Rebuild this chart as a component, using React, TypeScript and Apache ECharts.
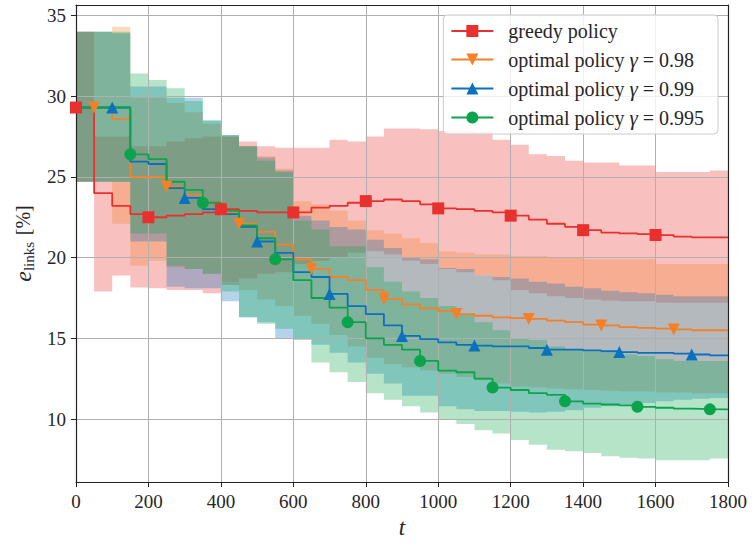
import { useEffect, useRef } from 'react';
import * as echarts from 'echarts';

// Time steps (post-step sampling, value holds until the next step)
const steps = [
  0, 50, 100, 150, 200, 250, 300, 350, 400, 450, 500, 550, 600, 650, 700, 750, 800, 850, 900,
  950, 1000, 1050, 1100, 1150, 1200, 1250, 1300, 1350, 1400, 1450, 1500, 1550, 1600, 1650, 1700,
  1750, 1800,
];

// greedy policy
const greedyMean = [
  29.3, 24.0, 23.2, 22.7, 22.5, 22.6, 22.7, 22.8, 23.0, 22.9, 22.8, 22.8, 22.8, 23.1, 23.2, 23.4,
  23.5, 23.6, 23.5, 23.3, 23.05, 23.0, 22.9, 22.8, 22.6, 22.35, 22.1, 21.9, 21.7, 21.55, 21.5,
  21.45, 21.4, 21.3, 21.25, 21.25, 21.25,
];
const greedyHigh = [
  34.0, 27.5, 27.5, 26.9, 26.9, 27.2, 27.4, 27.5, 27.5, 27.2, 26.9, 26.8, 26.8, 26.8, 27.3, 27.2,
  27.5, 28.0, 28.0, 27.95, 27.85, 27.85, 27.8, 27.3, 27.0, 26.4, 26.3, 26.0, 25.9, 25.9, 25.7,
  25.7, 25.3, 25.3, 25.3, 25.4, 25.4,
];
const greedyLow = [
  24.7, 17.9, 18.9, 18.15, 18.1, 18.0, 18.0, 17.8, 18.3, 18.7, 19.0, 19.1, 19.6, 19.8, 20.0, 20.3,
  20.4, 20.2, 19.8, 19.6, 19.3, 19.1, 18.9, 18.6, 18.0, 17.8, 17.6, 17.5, 17.4, 17.35, 17.3, 17.3,
  17.2, 17.2, 17.2, 17.2, 17.2,
];

// optimal policy, gamma = 0.98
const opt98Mean = [
  29.3, 29.3, 28.6, 25.0, 25.0, 24.4, 23.9, 23.4, 22.8, 22.1, 21.6, 20.8, 19.9, 19.3, 18.8, 18.6,
  18.0, 17.45, 17.1, 16.85, 16.7, 16.5, 16.4, 16.3, 16.25, 16.2, 16.1, 16.0, 15.85, 15.8, 15.7,
  15.65, 15.6, 15.55, 15.5, 15.5, 15.5,
];
const opt98High = [
  34.0, 34.0, 34.3, 29.9, 29.9, 29.6, 29.0, 28.3, 27.5, 26.9, 26.3, 25.5, 23.5, 23.3, 22.9, 22.3,
  21.7, 21.5, 21.2, 20.9, 20.4, 20.3, 20.2, 20.2, 20.1, 20.1, 20.0, 20.0, 19.9, 19.9, 19.9, 19.9,
  19.6, 19.6, 19.6, 19.6, 19.6,
];
const opt98Low = [
  24.7, 24.7, 22.1, 19.5, 19.8, 19.4, 19.3, 19.0, 18.5, 18.0, 17.4, 17.0, 16.4, 15.9, 15.2, 14.5,
  13.8, 13.4, 13.2, 13.0, 12.8, 12.6, 12.4, 12.2, 12.0, 11.95, 11.9, 11.85, 11.8, 11.75, 11.7,
  11.7, 11.65, 11.65, 11.6, 11.6, 11.6,
];

// optimal policy, gamma = 0.99
const opt99Mean = [
  29.3, 29.3, 29.3, 25.95, 25.8, 24.3, 23.7, 23.0, 22.7, 21.9, 21.0, 20.3, 19.1, 18.8, 17.75, 17.0,
  16.5, 15.8, 15.15, 14.95, 14.75, 14.6, 14.55, 14.5, 14.5, 14.4, 14.3, 14.3, 14.25, 14.2, 14.15,
  14.1, 14.1, 14.05, 14.0, 13.95, 13.95,
];
const opt99High = [
  34.0, 34.0, 33.9, 30.6, 30.6, 29.9, 29.9, 28.5, 27.6, 26.9, 26.2, 25.4, 22.6, 22.3, 21.9, 21.75,
  21.1, 20.6, 20.0, 19.9, 19.35, 19.3, 18.9, 18.8, 18.7, 18.5, 18.4, 18.2, 18.1, 17.95, 17.85,
  17.8, 17.7, 17.6, 17.6, 17.6, 17.6,
];
const opt99Low = [
  24.7, 24.7, 24.7, 21.0, 21.0, 18.2, 18.1, 18.1, 17.3, 16.3, 16.0, 15.0, 14.95, 14.6, 14.1, 13.5,
  12.8, 12.2, 11.45, 11.45, 10.8, 10.6, 10.5, 10.5, 10.45, 10.4, 10.45, 10.55, 10.7, 10.8, 10.9,
  11.0, 11.1, 11.2, 11.25, 11.3, 11.3,
];

// optimal policy, gamma = 0.995
const opt995Mean = [
  29.3, 29.3, 29.3, 26.4, 26.1, 24.7, 24.2, 23.4, 22.9, 22.0, 21.2, 19.9, 18.6, 17.5, 16.9, 16.0,
  15.0, 14.6, 14.3, 13.6, 13.0, 12.9, 12.5, 11.95, 11.8, 11.6, 11.5, 11.1, 10.95, 10.9, 10.85,
  10.76, 10.7, 10.65, 10.62, 10.6, 10.6,
];
const opt995High = [
  34.0, 34.0, 34.0, 31.4, 31.0, 30.5, 29.7, 28.5, 27.6, 26.9, 26.0, 25.3, 22.3, 21.75, 20.7, 20.7,
  19.4, 18.5, 17.9, 17.5, 17.0, 16.5, 16.0, 15.5, 15.0, 14.9, 14.5, 14.3, 14.2, 14.1, 14.0, 13.9,
  13.7, 13.6, 13.6, 13.6, 13.6,
];
const opt995Low = [
  24.7, 24.7, 24.7, 21.5, 21.5, 19.5, 19.3, 19.0, 17.9, 16.3, 15.9, 15.6, 14.9, 13.5, 12.9, 12.3,
  11.6, 11.2, 10.8, 10.4, 10.0, 9.7, 9.3, 9.1, 8.7, 8.4, 8.1, 8.0, 7.9, 7.7, 7.6, 7.55, 7.45, 7.45,
  7.45, 7.55, 7.55,
];

const yTicks = [10, 15, 20, 25, 30, 35];

const FONT = '"Liberation Serif", "Times New Roman", serif';
const INK = '#262626';
const RED = '#e8312f';
const ORANGE = '#f58025';
const BLUE = '#0a72bd';
const GREEN = '#0ba44c';

// Shaded min/max envelope drawn as one stepped polygon
function band(lower: number[], upper: number[], color: string) {
  return {
    type: 'custom',
    silent: true,
    z: 1,
    data: [[steps[0], lower[0]]],
    renderItem: (_params: any, api: any) => {
      const pts: number[][] = [];
      for (let i = 0; i < steps.length - 1; i++) {
        pts.push(api.coord([steps[i], upper[i]]));
        pts.push(api.coord([steps[i + 1], upper[i]]));
      }
      for (let i = steps.length - 2; i >= 0; i--) {
        pts.push(api.coord([steps[i + 1], lower[i]]));
        pts.push(api.coord([steps[i], lower[i]]));
      }
      return {
        type: 'polygon',
        shape: { points: pts },
        style: { fill: echarts.color.modifyAlpha(color, 0.3) },
      };
    },
  };
}

// Stepped mean curve with a marker every 200 time units
function curve(
  name: string,
  values: number[],
  color: string,
  symbol: string,
  phase: number,
  rotate = 0,
) {
  return {
    type: 'line',
    name,
    z: 3,
    step: 'end',
    data: steps.map((t, i) => [t, values[i]]),
    symbol,
    symbolRotate: rotate,
    symbolSize: (_v: any, p: any) =>
      p.dataIndex % 4 === phase && p.dataIndex < steps.length - 1 ? 12 : 0,
    showSymbol: true,
    showAllSymbol: true,
    lineStyle: { color, width: 1.8 },
    itemStyle: { color },
  };
}

const legendNames = [
  'greedy policy',
  'optimal policy γ = 0.98',
  'optimal policy γ = 0.99',
  'optimal policy γ = 0.995',
];

export default function App() {
  const ref = useRef<HTMLDivElement>(null);

  useEffect(() => {
    if (!ref.current) return;
    const chart = echarts.init(ref.current, null, { renderer: 'svg' });
    const frame = { color: '#222', width: 1.2 };
    const txt = { fontFamily: FONT, fontSize: 19, color: INK };

    chart.setOption({
      animation: false,
      backgroundColor: '#fff',
      grid: { left: 76, right: 24, top: 5, bottom: 60, outerBoundsMode: 'none' },
      legend: {
        data: legendNames,
        orient: 'vertical',
        right: 34,
        top: 15,
        itemWidth: 42,
        itemHeight: 15,
        itemGap: 8,
        padding: [6, 14, 6, 7],
        borderColor: '#cccccc',
        borderWidth: 1,
        borderRadius: 4,
        backgroundColor: 'rgba(255,255,255,0.8)',
        formatter: (n: string) => n.replace('γ', '{g|γ}'),
        textStyle: {
          fontFamily: FONT,
          fontSize: 20,
          color: INK,
          padding: [0, 0, 0, 10],
          rich: { g: { fontFamily: FONT, fontSize: 21, fontStyle: 'italic', color: INK } },
        },
      },
      xAxis: [
        {
          type: 'value',
          min: 0,
          max: 1800,
          interval: 200,
          position: 'bottom',
          z: 2,
          axisLine: { show: true, onZero: false, lineStyle: frame },
          axisTick: { show: true, length: 5, lineStyle: { color: '#222', width: 1 } },
          axisLabel: { ...txt, margin: 10, formatter: (v: number) => String(v) },
          splitLine: { show: true, lineStyle: { color: '#b0b0b0', width: 1 } },
          name: 't',
          nameLocation: 'middle',
          nameGap: 32,
          nameTextStyle: { fontFamily: FONT, fontStyle: 'italic', fontSize: 23, color: INK },
        },
        {
          type: 'value',
          min: 0,
          max: 1800,
          position: 'top',
          z: 2,
          axisLine: { show: true, onZero: false, lineStyle: frame },
          axisTick: { show: false },
          axisLabel: { show: false },
          splitLine: { show: false },
        },
      ],
      yAxis: [
        {
          type: 'value',
          min: 6.1,
          max: 35.65,
          splitNumber: 6,
          position: 'left',
          z: 2,
          axisLine: { show: true, onZero: false, lineStyle: frame },
          axisTick: {
            show: true,
            length: 5,
            customValues: yTicks,
            lineStyle: { color: '#222', width: 1 },
          },
          axisLabel: { ...txt, margin: 10, customValues: yTicks },
          splitLine: { show: true, lineStyle: { color: '#b0b0b0', width: 1 } },
          name: '{e|e}{s|links}  {b|[%]}',
          nameLocation: 'middle',
          nameRotate: 90,
          nameGap: 38,
          nameTextStyle: {
            rich: {
              e: { fontFamily: FONT, fontStyle: 'italic', fontSize: 24, color: INK },
              s: { fontFamily: FONT, fontSize: 15, color: INK, padding: [11, 0, 0, 0] },
              b: { fontFamily: FONT, fontSize: 20, color: INK },
            },
          },
        },
        {
          type: 'value',
          min: 6.1,
          max: 35.65,
          position: 'right',
          z: 2,
          axisLine: { show: true, onZero: false, lineStyle: frame },
          axisTick: { show: false },
          axisLabel: { show: false },
          splitLine: { show: false },
        },
      ],
      series: [
        band(greedyLow, greedyHigh, RED),
        band(opt98Low, opt98High, ORANGE),
        band(opt99Low, opt99High, BLUE),
        band(opt995Low, opt995High, GREEN),
        curve(legendNames[0], greedyMean, RED, 'rect', 0),
        curve(legendNames[1], opt98Mean, ORANGE, 'triangle', 1, 180),
        curve(legendNames[2], opt99Mean, BLUE, 'triangle', 2),
        curve(legendNames[3], opt995Mean, GREEN, 'circle', 3),
      ],
    });

    return () => chart.dispose();
  }, []);

  return (
    <div
      ref={ref}
      style={{ position: 'absolute', left: 0, top: 0, width: 752, height: 542 }}
    />
  );
}
